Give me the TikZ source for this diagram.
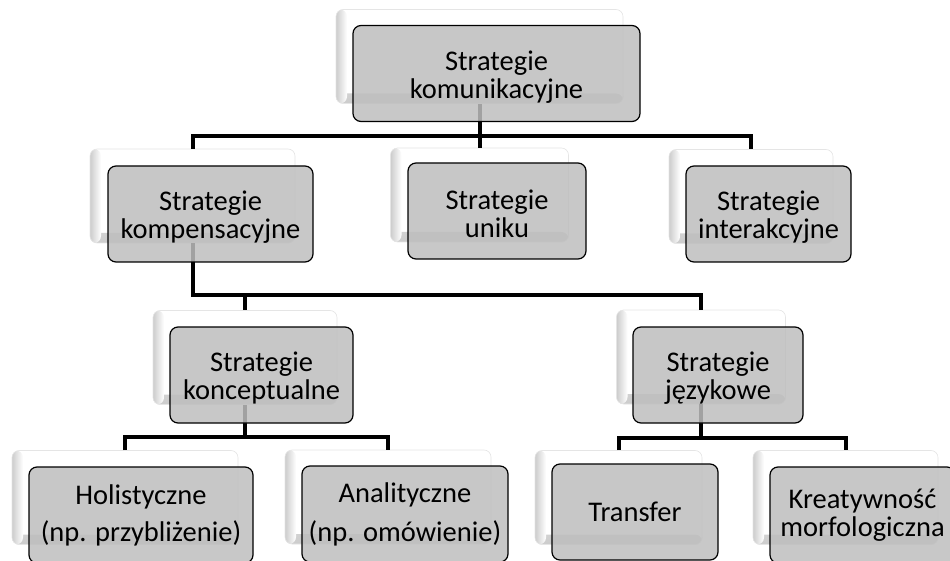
\documentclass[tikz,border=0pt]{standalone}
\usepackage{fontspec}
\setmainfont{Carlito}
\definecolor{frontgray}{RGB}{190,190,190}
\newcommand\cardfont{\fontsize{28.5}{28}\selectfont}
\newcommand\lowerline{\rule{0pt}{26pt}}
\begin{document}
\begin{tikzpicture}[x=1pt,y=-1pt,
  backcard/.style={rectangle, rounded corners=7pt, fill=white, draw=gray!20, line width=0.6pt,
    inner sep=0pt, minimum height=94pt,
    path picture={
      \shade[bottom color=gray!40, top color=white]
        (path picture bounding box.south west) rectangle ([yshift=10pt]path picture bounding box.south east);
      \shade[left color=gray!40, right color=white]
        (path picture bounding box.south west) rectangle ([xshift=11pt]path picture bounding box.north west);
    }},
  frontcard/.style={rectangle, rounded corners=8pt, draw=black, line width=1.2pt,
    fill=frontgray, fill opacity=0.85, text opacity=1, draw opacity=1,
    align=center, font=\cardfont, inner sep=2pt, minimum height=96pt},
  conn/.style={draw=black, line width=4pt}]
\clip (0,0) rectangle (950,561);

% back cards
\node[backcard, minimum width=287pt] (topb)   at (479.5,56.5) {};
\node[backcard, minimum width=205pt] (kompb)  at (192.5,196) {};
\node[backcard, minimum width=178pt] (unikb)  at (479.5,195) {};
\node[backcard, minimum width=164pt] (interb) at (751,196.5) {};
\node[backcard, minimum width=184pt] (koncb)  at (245,357.5) {};
\node[backcard, minimum width=169pt] (jezb)   at (701,357) {};
\node[backcard, minimum width=226pt] (holb)   at (125,497.5) {};
\node[backcard, minimum width=206pt] (analb)  at (388,497) {};
\node[backcard, minimum width=167pt] (transb) at (618.5,497.5) {};
\node[backcard, minimum width=185pt] (kreab)  at (845.5,497.5) {};

% connectors
\coordinate (b1) at (479.5,136);
\coordinate (b2) at (245,295);
\coordinate (b3) at (245,437);
\coordinate (b4) at (701,438);
\draw[conn] (topb.south) -- (unikb.north);
\draw[conn] (kompb.north) |- (b1) -| (interb.north);
\draw[conn] (kompb.south) |- (jezb.north |- b2) -- (jezb.north);
\draw[conn] (b2) -- (koncb.north);
\draw[conn] (koncb.south) -- (b3);
\draw[conn] (holb.north) |- (b3) -| (analb.north);
\draw[conn] (jezb.south) -- (b4);
\draw[conn] (transb.north) |- (b4) -| (kreab.north);

% front cards
\node[frontcard, minimum width=287pt] (top)   at (496.5,73.5) {\lowerline Strategie\\komunikacyjne};
\node[frontcard, minimum width=205pt] (komp)  at (210.5,214) {\lowerline Strategie\\kompensacyjne};
\node[frontcard, minimum width=178pt] (unik)  at (497,211) {\lowerline Strategie\\uniku};
\node[frontcard, minimum width=165pt] (inter) at (768.5,214) {\lowerline Strategie\\interakcyjne};
\node[frontcard, minimum width=183pt] (konc)  at (261.5,375) {\lowerline Strategie\\konceptualne};
\node[frontcard, minimum width=170pt] (jez)   at (718,375) {\lowerline Strategie\\językowe};
\node[frontcard, minimum width=224pt] (hol)   at (141,515) {Holistyczne\\[9pt](np. przybliżenie)};
\node[frontcard, minimum width=206pt] (anal)  at (405,514) {Analityczne\\[11pt](np. omówienie)};
\node[frontcard, minimum width=166pt] (trans) at (635,512) {Transfer};
\node[frontcard, minimum width=185pt] (krea)  at (862.5,515) {Kreatywność\\morfologiczna};
\end{tikzpicture}
\end{document}
